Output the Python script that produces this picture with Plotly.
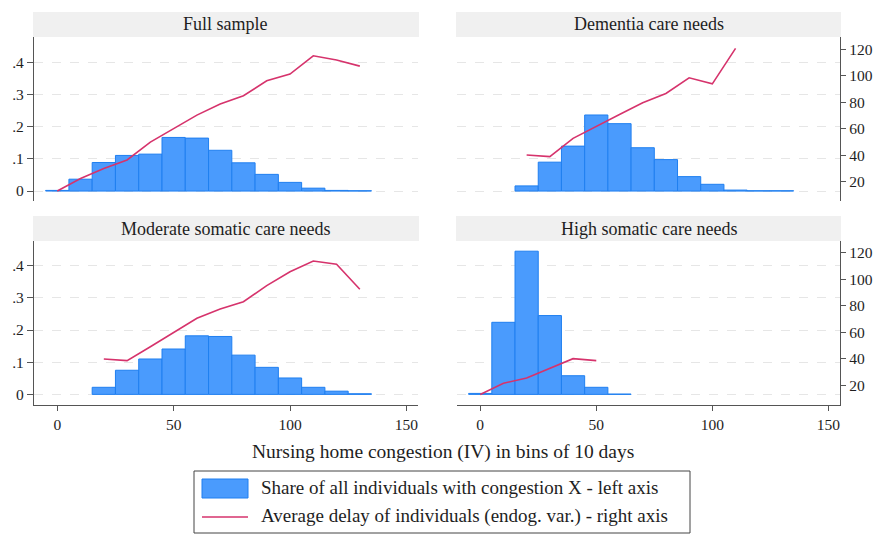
import plotly.graph_objects as go

W, H = 877, 535

panel_titles = ["Full sample", "Dementia care needs", "Moderate somatic care needs", "High somatic care needs"]

# bin centres (10-day bins)
bins_full = [0, 10, 20, 30, 40, 50, 60, 70, 80, 90, 100, 110, 120, 130]
share_full = [0.002, 0.037, 0.089, 0.111, 0.115, 0.167, 0.165, 0.127, 0.088, 0.052, 0.027, 0.009, 0.002, 0.001]
delay_full = [13.0, 22.5, 30.0, 36.5, 50.0, 60.3, 70.4, 78.7, 85.0, 96.3, 101.4, 115.2, 112.0, 107.4]

bins_dem = [20, 30, 40, 50, 60, 70, 80, 90, 100, 110, 120, 130]
share_dem = [0.016, 0.090, 0.140, 0.237, 0.210, 0.135, 0.098, 0.045, 0.021, 0.003, 0.001, 0.001]
line_x_dem = [20, 30, 40, 50, 60, 70, 80, 90, 100, 110]
delay_dem = [40.3, 39.0, 52.8, 62.1, 70.9, 79.7, 86.7, 98.6, 94.0, 120.8]

bins_mod = [20, 30, 40, 50, 60, 70, 80, 90, 100, 110, 120, 130]
share_mod = [0.022, 0.075, 0.110, 0.141, 0.182, 0.180, 0.122, 0.084, 0.051, 0.022, 0.010, 0.002]
delay_mod = [39.7, 38.5, 49.0, 59.6, 70.5, 77.5, 83.0, 95.2, 105.7, 113.8, 111.3, 92.4]

bins_high = [0, 10, 20, 30, 40, 50, 60]
share_high = [0.003, 0.224, 0.445, 0.245, 0.058, 0.022, 0.001]
line_x_high = [0, 10, 20, 30, 40, 50]
delay_high = [13.0, 21.4, 25.4, 32.7, 40.0, 38.5]

left_ticks = [0, 0.1, 0.2, 0.3, 0.4]
left_labels = ["0", ".1", ".2", ".3", ".4"]
right_ticks = [20, 40, 60, 80, 100, 120]
x_ticks = [0, 50, 100, 150]

x_title = "Nursing home congestion (IV) in bins of 10 days"
legend_labels = ["Share of all individuals with congestion X - left axis",
                 "Average delay of individuals (endog. var.) - right axis"]

BAR_FILL = "#4a9bfd"
BAR_LINE = "#1f7ff0"
LINE_COL = "#d6336c"
FONT = "Liberation Serif"
TXT = "#1e1e1e"
AX = "#555555"
TICK_SIZE = 15.5

panels = [
    (bins_full, share_full, bins_full, delay_full),
    (bins_dem, share_dem, line_x_dem, delay_dem),
    (bins_mod, share_mod, bins_mod, delay_mod),
    (bins_high, share_high, line_x_high, delay_high),
]

# pixel geometry of panels
xpx = [(34, 418), (457, 840)]
ypx = [(37, 201), (241, 405)]
strip_h = 25

fig = go.Figure()
layout = dict(width=W, height=H, margin=dict(l=0, r=0, t=0, b=0),
              paper_bgcolor="white", plot_bgcolor="white",
              showlegend=False, font=dict(family=FONT, color=TXT, size=TICK_SIZE),
              shapes=[], annotations=[])

for i, (bx, by, lx, ly) in enumerate(panels):
    r, c = divmod(i, 2)
    n = i + 1
    xa = f"x{n}" if n > 1 else "x"
    ya = f"y{2*n-1}" if n > 1 else "y"
    ya2 = f"y{2*n}"
    fig.add_trace(go.Bar(x=bx, y=by, width=10, xaxis=xa, yaxis=ya,
                         marker=dict(color=BAR_FILL, line=dict(color=BAR_LINE, width=1))))
    fig.add_trace(go.Scatter(x=lx, y=ly, mode="lines", xaxis=xa, yaxis=ya2,
                             line=dict(color=LINE_COL, width=1.6)))
    xd = [xpx[c][0] / W, xpx[c][1] / W]
    yd = [1 - ypx[r][1] / H, 1 - ypx[r][0] / H]
    xkey = "xaxis" if n == 1 else f"xaxis{n}"
    ykey = "yaxis" if n == 1 else f"yaxis{2*n-1}"
    y2key = f"yaxis{2*n}"
    bottom = (r == 1)
    layout[xkey] = dict(domain=xd, range=[-10, 155], anchor=ya,
                        showgrid=False, zeroline=False,
                        showline=bottom, linecolor=AX, linewidth=1.3,
                        ticks="outside" if bottom else "", ticklen=5, tickcolor=AX,
                        tickvals=x_ticks, showticklabels=bottom,
                        tickfont=dict(size=TICK_SIZE, color=TXT, family=FONT))
    if r == 0:
        yr = [-0.031, 0.48]
        yr2 = [5.5, 129.4]
    else:
        yr = [-0.033, 0.4767]
        yr2 = [5.0, 128.9]
    left = (c == 0)
    layout[ykey] = dict(domain=yd, range=yr, anchor=xa,
                        showgrid=True, gridcolor="#e6e6e6", griddash="dash", gridwidth=1,
                        zeroline=False, showline=left, linecolor=AX, linewidth=1.3,
                        ticks="outside" if left else "", ticklen=6, tickcolor=AX,
                        tickvals=left_ticks, ticktext=left_labels,
                        showticklabels=left,
                        tickfont=dict(size=TICK_SIZE, color=TXT, family=FONT))
    layout[y2key] = dict(domain=yd, range=yr2, anchor=xa, overlaying=ya, side="right",
                         showgrid=False, zeroline=False,
                         showline=not left, linecolor=AX, linewidth=1.3,
                         ticks="outside" if not left else "", ticklen=5, tickcolor=AX,
                         tickvals=right_ticks, showticklabels=not left,
                         tickfont=dict(size=TICK_SIZE, color=TXT, family=FONT))
    # title strip
    layout["shapes"].append(dict(type="rect", xref="paper", yref="paper",
                                 x0=(xpx[c][0] - 1) / W, x1=(xpx[c][1] + 1) / W,
                                 y0=1 - ypx[r][0] / H, y1=1 - (ypx[r][0] - strip_h) / H,
                                 fillcolor="#f0f0f0", line=dict(width=0), layer="below"))
    layout["annotations"].append(dict(xref="paper", yref="paper",
                                      x=(xpx[c][0] + xpx[c][1]) / 2 / W,
                                      y=1 - (ypx[r][0] - strip_h / 2) / H,
                                      text=panel_titles[i], showarrow=False,
                                      font=dict(size=18, color=TXT, family=FONT),
                                      xanchor="center", yanchor="middle"))

# x-axis title
layout["annotations"].append(dict(xref="paper", yref="paper", x=443 / W, y=1 - 452 / H,
                                  text=x_title, showarrow=False,
                                  font=dict(size=19.5, color=TXT, family=FONT),
                                  xanchor="center", yanchor="middle"))
# legend box (drawn)
layout["shapes"].append(dict(type="rect", xref="paper", yref="paper",
                             x0=194 / W, x1=690 / W, y0=1 - 533 / H, y1=1 - 471 / H,
                             line=dict(color="#444444", width=1), fillcolor="white"))
layout["shapes"].append(dict(type="rect", xref="paper", yref="paper",
                             x0=202 / W, x1=248 / W, y0=1 - 498 / H, y1=1 - 479 / H,
                             line=dict(color=BAR_LINE, width=1), fillcolor=BAR_FILL))
layout["shapes"].append(dict(type="line", xref="paper", yref="paper",
                             x0=202 / W, x1=248 / W, y0=1 - 517 / H, y1=1 - 517 / H,
                             line=dict(color=LINE_COL, width=1.6)))
for k, (lab, yc) in enumerate(zip(legend_labels, [488, 516])):
    layout["annotations"].append(dict(xref="paper", yref="paper", x=259 / W, y=1 - yc / H,
                                      text=lab, showarrow=False,
                                      font=dict(size=19, color=TXT, family=FONT),
                                      xanchor="left", yanchor="middle"))

fig.update_layout(**layout)
fig.write_html("out.html")
